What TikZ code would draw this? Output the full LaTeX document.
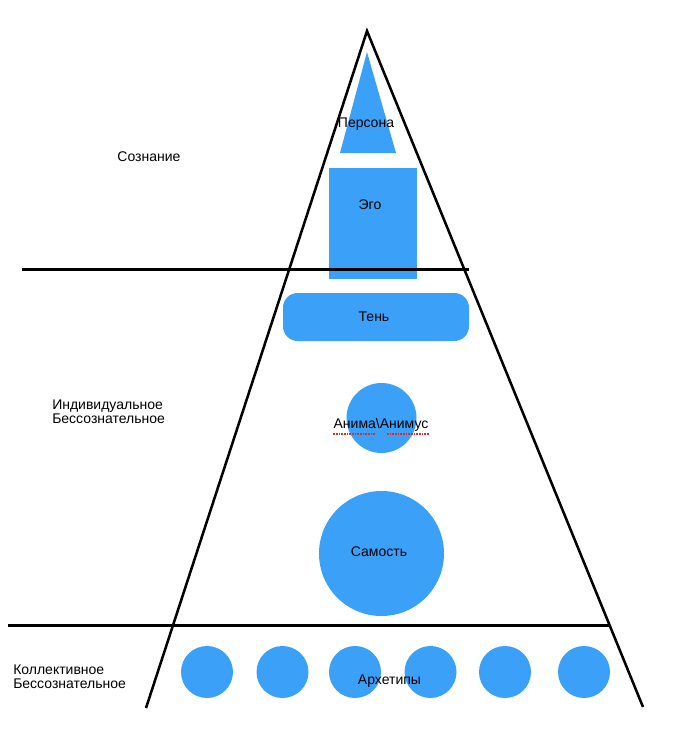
\documentclass[tikz,border=0pt]{standalone}
\usepackage{fontspec}
\setmainfont{Liberation Sans}
\usetikzlibrary{positioning}
\definecolor{psyblue}{RGB}{58,160,248}
\definecolor{spellred}{RGB}{214,48,48}
\tikzset{blob/.style={fill=psyblue, draw=none, inner sep=0pt, outer sep=0pt},
    orb/.style={blob, circle},
    archetype/.style={orb, minimum size=39pt},
    lbl/.style={inner sep=0pt, font=\fontsize{10.5}{10.5}\selectfont},
    side/.style={line width=1.9pt},
    layer/.style={line width=2.25pt},
    spell/.style={spellred, line width=1pt, dash pattern=on 1.2pt off 0.8pt}}

\begin{document}
\begin{tikzpicture}[x=0.75pt, y=-0.75pt]
    \useasboundingbox (0, 0) rectangle (687, 729);
    % blue shapes
    \fill[blob] (367, 52) -- (396, 153) -- (340, 153) -- cycle;
    \fill[blob] (329, 168) rectangle (417, 279);
    \fill[blob, rounded corners=11pt] (283, 293) rectangle (469, 341);
    \node[orb, minimum size=52.5pt] (anima) at (381.5, 418) {};
    \node[orb, minimum size=93.75pt] (self) at (381.5, 553.5) {};
    \foreach \x [count=\i] in {207, 282.5, 355, 430.5, 505, 584}
        \node[archetype] (arch\i) at (\x, 672) {};
    % pyramid and layers
    \coordinate (apex) at (367, 31);
    \coordinate (baseL) at (146, 708);
    \coordinate (baseR) at (643, 707);
    \draw[side] (baseL) -- (apex) -- (baseR);
    \coordinate (consL) at (22, 269);
    \coordinate (consR) at (469, 269);
    \draw[layer] (consL) -- (consR);
    \coordinate (collL) at (8, 625.5);
    \coordinate (collR) at (609, 625.5);
    \draw[layer] (collL) -- (collR);
    % labels
    \node[lbl] (personaT) at (366, 124) {Персона};
    \node[lbl] (egoT) at (370, 205) {Эго};
    \node[lbl] (shadowT) at (374, 317) {Тень};
    \node[lbl] (animaT) at (381, 425) {Анима\textbackslash Анимус};
    \draw[spell] ([yshift=-1.6pt]animaT.south west) -- ++(42, 0);
    \draw[spell] ([yshift=-1.6pt]animaT.south east) -- ++(-42, 0);
    \node[lbl] (selfT) at (379, 552) {Самость};
    \node[lbl] (archT) at (389.5, 681) {Архетипы};
    \node[lbl] (consT) at (149, 157) {Сознание};
    \node[lbl, align=left, anchor=west] (personalT) at (52, 412) {Индивидуальное\\Бессознательное};
    \node[lbl, align=left, anchor=west] (collectiveT) at (13, 677) {Коллективное\\Бессознательное};
\end{tikzpicture}
\end{document}
